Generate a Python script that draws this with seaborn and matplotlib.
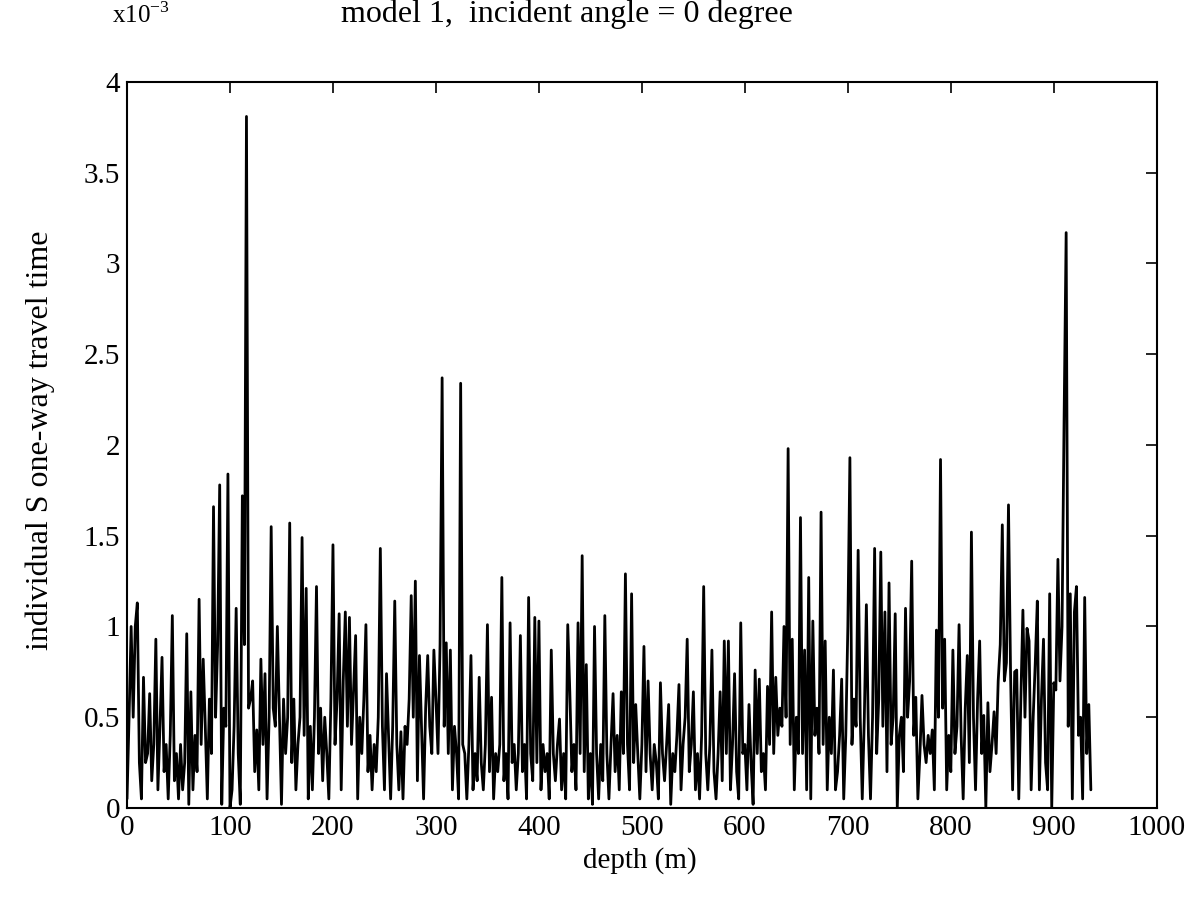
import numpy as np
import pandas as pd
import matplotlib
matplotlib.use("Agg")
import matplotlib.pyplot as plt
import seaborn as sns
from matplotlib.ticker import FuncFormatter

# individual S one-way travel time (x10^-3 s), sampled every 2 m of depth
depth_step_m = 2.0
travel_time = [
    0.05, 0.5, 1.0, 0.5, 1.0, 1.13, 0.25, 0.05, 0.72, 0.25,
    0.3, 0.63, 0.15, 0.35, 0.93, 0.1, 0.45, 0.83, 0.2, 0.35,
    0.05, 0.4, 1.06, 0.15, 0.3, 0.05, 0.35, 0.1, 0.25, 0.96,
    0.02, 0.64, 0.1, 0.4, 0.2, 1.15, 0.35, 0.82, 0.45, 0.05,
    0.6, 0.3, 1.66, 0.5, 0.9, 1.78, 0.02, 0.55, 0.45, 1.84,
    0.0, 0.1, 0.45, 1.10, 0.3, 0.02, 1.72, 0.9, 3.81, 0.55,
    0.6, 0.70, 0.2, 0.43, 0.1, 0.82, 0.35, 0.74, 0.05, 0.5,
    1.55, 0.55, 0.45, 1.0, 0.5, 0.02, 0.6, 0.3, 0.5, 1.57,
    0.25, 0.6, 0.1, 0.35, 0.5, 1.49, 0.4, 1.21, 0.05, 0.45,
    0.1, 0.5, 1.22, 0.3, 0.55, 0.15, 0.5, 0.3, 0.05, 0.6,
    1.45, 0.35, 0.6, 1.07, 0.1, 0.7, 1.08, 0.45, 1.05, 0.35,
    0.65, 0.95, 0.05, 0.5, 0.3, 0.6, 1.01, 0.2, 0.4, 0.1,
    0.35, 0.2, 0.5, 1.43, 0.45, 0.1, 0.74, 0.4, 0.05, 0.45,
    1.14, 0.35, 0.1, 0.42, 0.05, 0.45, 0.35, 0.6, 1.17, 0.5,
    1.25, 0.15, 0.84, 0.45, 0.05, 0.55, 0.84, 0.45, 0.3, 0.87,
    0.6, 0.3, 0.9, 2.37, 0.45, 0.91, 0.3, 0.87, 0.1, 0.45,
    0.3, 0.05, 2.34, 0.35, 0.3, 0.05, 0.35, 0.84, 0.1, 0.3,
    0.15, 0.72, 0.25, 0.1, 0.35, 1.01, 0.2, 0.61, 0.05, 0.3,
    0.2, 0.35, 1.27, 0.15, 0.3, 0.05, 1.02, 0.25, 0.35, 0.1,
    0.3, 0.95, 0.2, 0.35, 0.05, 1.16, 0.3, 0.15, 1.05, 0.25,
    1.03, 0.1, 0.35, 0.2, 0.3, 0.05, 0.87, 0.3, 0.15, 0.35,
    0.49, 0.1, 0.3, 0.05, 1.01, 0.64, 0.2, 0.35, 0.1, 1.02,
    0.3, 1.39, 0.2, 0.79, 0.05, 0.3, 0.02, 1.0, 0.3, 0.05,
    0.35, 0.15, 1.06, 0.3, 0.05, 0.35, 0.63, 0.2, 0.4, 0.1,
    0.64, 0.3, 1.29, 0.35, 0.1, 1.18, 0.25, 0.57, 0.3, 0.05,
    0.35, 0.89, 0.2, 0.7, 0.3, 0.1, 0.35, 0.25, 0.05, 0.69,
    0.3, 0.15, 0.35, 0.57, 0.02, 0.3, 0.2, 0.4, 0.68, 0.1,
    0.35, 0.5, 0.93, 0.2, 0.35, 0.64, 0.1, 0.3, 0.05, 0.4,
    1.22, 0.3, 0.1, 0.35, 0.87, 0.2, 0.05, 0.3, 0.64, 0.15,
    0.92, 0.3, 0.92, 0.1, 0.35, 0.74, 0.2, 0.05, 1.02, 0.3,
    0.35, 0.1, 0.57, 0.25, 0.02, 0.76, 0.3, 0.71, 0.2, 0.3,
    0.1, 0.67, 0.35, 1.08, 0.3, 0.72, 0.4, 0.55, 0.45, 1.0,
    0.5, 1.98, 0.35, 0.93, 0.1, 0.5, 0.3, 1.6, 0.3, 0.87,
    0.1, 1.27, 0.05, 1.03, 0.4, 0.55, 0.3, 1.63, 0.35, 0.92,
    0.1, 0.5, 0.3, 0.76, 0.1, 0.2, 0.4, 0.71, 0.05, 0.4,
    1.0, 1.93, 0.35, 0.6, 0.45, 1.42, 0.5, 0.05, 0.5, 1.12,
    0.4, 0.05, 0.5, 1.43, 0.3, 0.6, 1.41, 0.45, 1.08, 0.2,
    1.24, 0.35, 0.5, 1.07, 0.0, 0.4, 0.5, 0.2, 1.10, 0.5,
    0.7, 1.36, 0.4, 0.61, 0.05, 0.3, 0.62, 0.35, 0.25, 0.4,
    0.3, 0.43, 0.1, 0.98, 0.5, 1.92, 0.55, 0.93, 0.1, 0.4,
    0.2, 0.87, 0.3, 0.45, 1.01, 0.4, 0.05, 0.55, 0.84, 0.25,
    1.52, 0.5, 0.1, 0.6, 0.92, 0.3, 0.51, 0.0, 0.58, 0.2,
    0.35, 0.53, 0.3, 0.7, 0.9, 1.56, 0.7, 0.8, 1.67, 0.75,
    0.1, 0.75, 0.76, 0.05, 0.6, 1.09, 0.5, 0.99, 0.92, 0.1,
    0.5, 0.8, 1.14, 0.1, 0.6, 0.93, 0.25, 0.1, 1.18, 0.0,
    0.69, 0.65, 1.37, 0.7, 1.0, 2.14, 3.17, 0.45, 1.18, 0.05,
    1.08, 1.22, 0.4, 0.5, 0.05, 1.16, 0.3, 0.57, 0.1,
]

x_ticks = [0, 100, 200, 300, 400, 500, 600, 700, 800, 900, 1000]
y_ticks = [0, 0.5, 1, 1.5, 2, 2.5, 3, 3.5, 4]

title_text = "model 1,  incident angle = 0 degree"
x_label = "depth (m)"
y_label = "individual S one-way travel time"

df = pd.DataFrame({
    "depth": np.arange(len(travel_time)) * depth_step_m,
    "t": travel_time,
})

sns.set_theme(style="white")
plt.rcParams["font.family"] = ["Liberation Serif", "DejaVu Serif"]
plt.rcParams["mathtext.fontset"] = "custom"
plt.rcParams["mathtext.rm"] = "Liberation Serif"
plt.rcParams["text.color"] = "black"

fig = plt.figure(figsize=(11.96, 9.19), dpi=100)
ax = fig.add_axes([0.1062, 0.1208, 0.861, 0.79])

sns.lineplot(data=df, x="depth", y="t", ax=ax, color="black",
             linewidth=2.0, estimator=None, sort=False)

ax.set_xlim(0, 1000)
ax.set_ylim(0, 4)
ax.set_xticks(x_ticks)
ax.set_yticks(y_ticks)
ax.yaxis.set_major_formatter(FuncFormatter(lambda v, p: f"{v:g}"))
ax.tick_params(direction="in", length=8, width=1.2, top=True, right=True,
               labelsize=21, colors="black", pad=5)
for s in ax.spines.values():
    s.set_color("black")
    s.set_linewidth(1.5)
ax.set_xlabel("")
ax.set_ylabel("")

fig.text(0.474, 0.985, title_text, ha="center", va="center", fontsize=23, color="black")
fig.text(0.094, 0.983, r"x10$^{\mathregular{-3}}$", ha="left", va="center", fontsize=18, color="black")
fig.text(0.535, 0.064, x_label, ha="center", va="center", fontsize=21, color="black")
fig.text(0.034, 0.521, y_label, ha="center", va="center", rotation=90, fontsize=23, color="black")

fig.savefig("out.png", dpi=100, facecolor="white")
